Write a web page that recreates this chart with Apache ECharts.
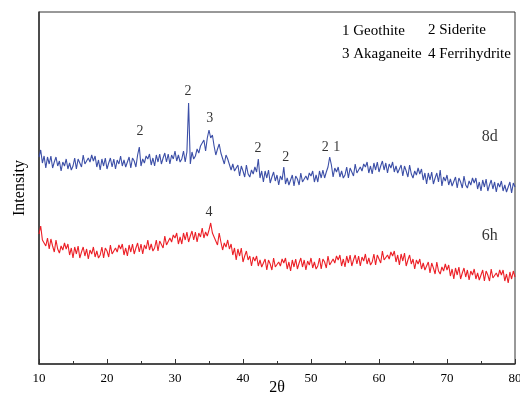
<!DOCTYPE html>
<html>
<head>
<meta charset="utf-8">
<script src="https://cdn.jsdelivr.net/npm/echarts@6/dist/echarts.min.js"></script>
<style>
  html, body { margin: 0; padding: 0; background: #fff; }
  #main { width: 520px; height: 397px; }
</style>
</head>
<body>
<div id="main"></div>
<script>
// 2θ from 10 to 80, step 0.25
var thetaStart = 10
var thetaStep = 0.25

// 8d sample (blue)
var series8d = [
  207, 214, 201, 208, 196, 207, 200, 208, 196, 202, 207, 198, 203, 193, 202, 198,
  205, 195, 201, 194, 198, 206, 195, 205, 203, 197, 209, 200, 199, 206, 202, 209,
  203, 208, 197, 204, 194, 205, 198, 206, 195, 201, 206, 197, 205, 195, 204, 200,
  208, 198, 204, 197, 199, 207, 196, 206, 203, 197, 209, 217, 198, 205, 201, 208,
  205, 210, 199, 206, 198, 209, 202, 210, 200, 206, 211, 202, 210, 200, 209, 205,
  213, 203, 209, 202, 205, 213, 202, 212, 261, 200, 212, 205, 208, 215, 211, 218,
  219, 224, 213, 226, 234, 226, 229, 218, 209, 215, 220, 211, 210, 200, 209, 205,
  204, 194, 200, 193, 191, 199, 188, 198, 193, 187, 199, 190, 187, 194, 190, 197,
  192, 205, 186, 193, 182, 193, 186, 194, 181, 187, 192, 183, 189, 179, 188, 184,
  197, 180, 186, 179, 181, 189, 178, 188, 185, 179, 191, 182, 181, 188, 184, 191,
  188, 193, 182, 189, 182, 193, 186, 194, 186, 192, 197, 207, 199, 187, 196, 192,
  197, 187, 193, 186, 189, 197, 186, 196, 194, 188, 200, 191, 190, 197, 193, 200,
  197, 202, 191, 198, 190, 201, 194, 202, 192, 198, 203, 194, 201, 191, 200, 196,
  202, 192, 198, 191, 191, 199, 188, 198, 193, 187, 199, 190, 186, 193, 189, 196,
  190, 195, 184, 191, 180, 191, 184, 192, 180, 186, 191, 182, 194, 178, 187, 183,
  189, 179, 185, 178, 179, 187, 176, 186, 182, 176, 188, 179, 176, 183, 179, 186,
  181, 186, 175, 182, 173, 184, 177, 185, 173, 179, 184, 175, 182, 172, 181, 177,
  183, 173, 179, 172, 174, 182, 171, 181, 177
]

// 6h sample (red)
var series6h = [
  130, 138, 124, 121, 118, 126, 115, 125, 118, 112, 124, 115, 111, 118, 114, 121,
  115, 120, 109, 116, 106, 117, 110, 118, 106, 112, 117, 108, 115, 105, 114, 110,
  117, 107, 113, 106, 109, 117, 106, 116, 113, 107, 119, 110, 109, 116, 112, 119,
  115, 120, 109, 116, 108, 119, 112, 120, 110, 116, 121, 112, 120, 110, 119, 115,
  124, 114, 120, 113, 116, 124, 113, 123, 122, 116, 128, 119, 119, 126, 122, 129,
  126, 131, 120, 127, 120, 131, 124, 132, 122, 128, 133, 124, 132, 122, 131, 127,
  136, 126, 132, 128, 134, 141, 131, 127, 125, 119, 131, 122, 114, 121, 117, 124,
  115, 120, 109, 116, 104, 115, 108, 116, 102, 108, 113, 104, 108, 98, 107, 103,
  108, 98, 104, 97, 97, 105, 94, 104, 100, 94, 106, 97, 95, 102, 98, 105,
  101, 106, 95, 102, 93, 104, 97, 105, 95, 101, 106, 97, 104, 94, 103, 99,
  106, 96, 102, 95, 98, 106, 95, 105, 102, 96, 108, 99, 98, 105, 101, 108,
  104, 109, 98, 105, 97, 108, 101, 109, 98, 104, 109, 100, 108, 98, 107, 103,
  110, 100, 106, 99, 102, 110, 99, 109, 107, 101, 113, 104, 102, 109, 105, 112,
  108, 113, 102, 109, 99, 110, 103, 111, 98, 104, 109, 100, 105, 95, 104, 100,
  105, 95, 101, 94, 94, 102, 91, 101, 96, 90, 102, 93, 90, 97, 93, 100,
  94, 99, 88, 95, 85, 96, 89, 97, 85, 91, 96, 87, 94, 84, 93, 89,
  95, 85, 91, 84, 86, 94, 83, 93, 89, 83, 95, 86, 84, 91, 87, 94,
  89, 94, 83, 90, 81, 92, 85, 93, 87
]

// peak labels
var peakText = ['2', '2', '3', '2', '2', '2', '1', '4']
var peakX = [24.85, 31.9, 35.1, 42.2, 46.3, 52.1, 53.8, 35.0]
var peakY = [233, 273, 246, 216, 207, 217, 217, 152]

// sample names
var sampleText = ['8d', '6h']
var sampleX = [76.3, 76.3]
var sampleY = [227, 128]

var xTicks = [10, 20, 30, 40, 50, 60, 70, 80]

function toPairs(arr) {
  var out = []
  for (var i = 0; i < arr.length; i++) {
    out.push([thetaStart + i * thetaStep, arr[i]])
  }
  return out
}

function toLabels(txt, xs, ys) {
  var out = []
  for (var i = 0; i < txt.length; i++) {
    out.push({ name: txt[i], value: [xs[i], ys[i]] })
  }
  return out
}

var serif = 'Liberation Serif'
var legendFont = '15px "Liberation Serif"'
var myChart = echarts.init(document.getElementById('main'))

var option = {
  animation: false,
  grid: {
    left: 39,
    right: 5,
    top: 12,
    bottom: 33,
    outerBoundsMode: 'none',
    show: true,
    borderColor: '#333',
    borderWidth: 1
  },
  xAxis: {
    type: 'value',
    min: 10,
    max: 80,
    interval: 10,
    name: '2θ',
    nameLocation: 'middle',
    nameGap: 16,
    nameMoveOverlap: false,
    nameTextStyle: { fontFamily: serif, fontSize: 16, color: '#000' },
    axisLine: { lineStyle: { color: '#333', width: 1.5 } },
    axisTick: { inside: true, length: 5, lineStyle: { color: '#333' } },
    minorTick: { show: true, splitNumber: 2, length: 3, lineStyle: { color: '#333' } },
    splitLine: { show: false },
    axisLabel: {
      fontFamily: serif,
      fontSize: 13,
      color: '#000',
      margin: 8,
      formatter: function (v) { return xTicks.indexOf(v) >= 0 ? String(v) : '' }
    }
  },
  yAxis: {
    type: 'value',
    min: 0,
    max: 352,
    name: 'Intensity',
    nameLocation: 'middle',
    nameGap: 11,
    nameRotate: 90,
    nameTextStyle: { fontFamily: serif, fontSize: 16, color: '#000' },
    axisLine: { show: true, lineStyle: { color: '#333', width: 1.5 } },
    axisTick: { show: false },
    axisLabel: { show: false },
    splitLine: { show: false }
  },
  graphic: [
    { type: 'text', left: 342, top: 24, style: { text: '1 Geothite', font: legendFont, fill: '#000' } },
    { type: 'text', left: 428, top: 23, style: { text: '2 Siderite', font: legendFont, fill: '#000' } },
    { type: 'text', left: 342, top: 47, style: { text: '3 Akaganeite', font: legendFont, fill: '#000' } },
    { type: 'text', left: 428, top: 47, style: { text: '4 Ferrihydrite', font: legendFont, fill: '#000' } }
  ],
  series: [
    {
      name: '8d',
      type: 'line',
      data: toPairs(series8d),
      showSymbol: false,
      lineStyle: { color: '#3c4fa7', width: 1.1 },
      z: 3
    },
    {
      name: '6h',
      type: 'line',
      data: toPairs(series6h),
      showSymbol: false,
      lineStyle: { color: '#ec2027', width: 1.1 },
      z: 2
    },
    {
      type: 'scatter',
      symbolSize: 0,
      data: toLabels(peakText, peakX, peakY),
      label: {
        show: true,
        position: 'inside',
        formatter: '{b}',
        fontFamily: serif,
        fontSize: 14,
        color: '#000'
      },
      z: 5
    },
    {
      type: 'scatter',
      symbolSize: 0,
      data: toLabels(sampleText, sampleX, sampleY),
      label: {
        show: true,
        position: 'inside',
        formatter: '{b}',
        fontFamily: serif,
        fontSize: 16,
        color: '#000'
      },
      z: 5
    }
  ]
}

myChart.setOption(option)
</script>
</body>
</html>
